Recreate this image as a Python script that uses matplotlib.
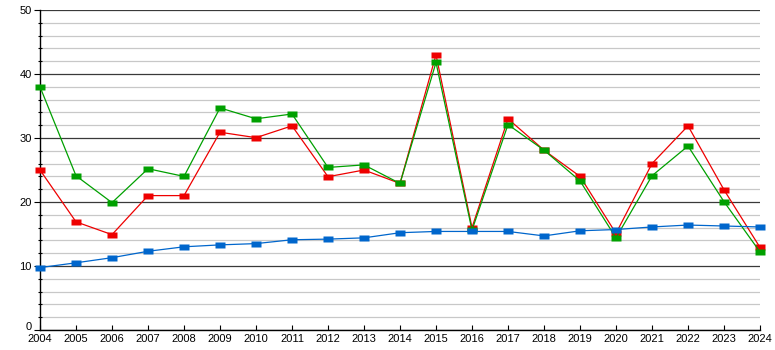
import numpy as np
import matplotlib
matplotlib.use("Agg")
from matplotlib import pyplot as plt
from matplotlib.ticker import MultipleLocator

plt.rcParams["font.family"] = ["Liberation Sans", "DejaVu Sans"]

# data
years = list(range(2004, 2025))
red_vals = [25, 16.9, 14.9, 21, 21, 30.9, 30.05, 31.9, 23.95, 25, 22.9,
            43, 16, 33, 28.1, 24, 15.1, 26, 31.9, 21.9, 12.9]
green_vals = [38, 24.1, 19.9, 25.2, 24, 34.7, 33, 33.75, 25.4, 25.8, 22.9,
              41.8, 15.6, 32.1, 28.1, 23.3, 14.4, 24.1, 28.75, 20.05, 12.2]
blue_vals = [9.75, 10.5, 11.3, 12.3, 13.0, 13.3, 13.5, 14.1, 14.2, 14.4, 15.2,
             15.4, 15.4, 15.4, 14.7, 15.5, 15.7, 16.1, 16.4, 16.25, 16.1]

fig = plt.figure(figsize=(7.75, 3.5), dpi=100)
ax = fig.add_axes([40 / 775, 20 / 350, 720 / 775, 320 / 350])

# wide rectangle marker
rect = [(-1, -0.6), (1, -0.6), (1, 0.6), (-1, 0.6), (-1, -0.6)]

ax.plot(years, red_vals, color="#ee0000", lw=0.9, marker=rect, ms=7.5,
        mec="none", zorder=3, clip_on=False)
ax.plot(years, green_vals, color="#00a000", lw=0.9, marker=rect, ms=7.5,
        mec="none", zorder=4, clip_on=False)
ax.plot(years, blue_vals, color="#0066cc", lw=0.9, marker=rect, ms=7.5,
        mec="none", zorder=5, clip_on=False)

ax.set_xlim(2004, 2024)
ax.set_ylim(0, 50)
ax.set_xticks(years)
ax.set_xticklabels([str(y) for y in years])
ax.set_yticks([0, 10, 20, 30, 40, 50])
ax.yaxis.set_minor_locator(MultipleLocator(2))

ax.grid(axis="y", which="major", color="#3a3a3a", lw=0.9, zorder=1)
ax.grid(axis="y", which="minor", color="#c8c8c8", lw=0.9, zorder=0)

for s in ["top", "right"]:
    ax.spines[s].set_visible(False)
ax.spines["left"].set_color("#000000")
ax.spines["bottom"].set_color("#000000")
ax.spines["left"].set_linewidth(1.0)
ax.spines["bottom"].set_linewidth(1.0)

ax.tick_params(axis="both", which="major", labelsize=8, width=0.8,
               colors="#000000")
ax.tick_params(axis="x", direction="in", length=3.5, pad=3)
ax.tick_params(axis="y", which="major", direction="out", length=4, pad=2)
ax.tick_params(axis="y", which="minor", direction="inout", length=3, width=0.8)

# the "0" label sits a little higher, clear of "2004"
ax.yaxis.get_major_ticks()[0].label1.set_va("baseline")

ax.set_facecolor("white")
fig.savefig("out.png", dpi=100, facecolor="white")
